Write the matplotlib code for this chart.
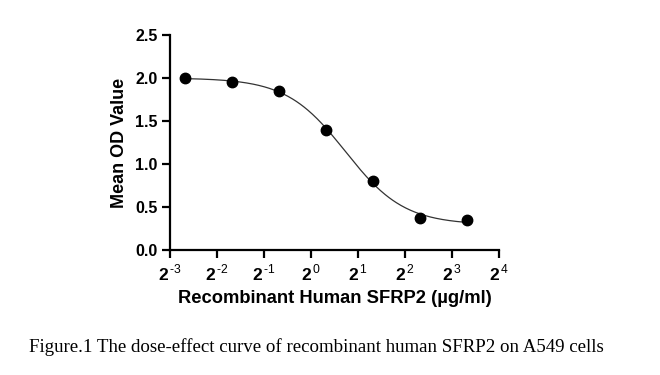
import numpy as np
import matplotlib.pyplot as plt
from matplotlib.ticker import FixedLocator, FuncFormatter

plt.rcParams["font.family"] = "Liberation Sans"
plt.rcParams["mathtext.fontset"] = "custom"
plt.rcParams["mathtext.rm"] = "Liberation Sans"
plt.rcParams["mathtext.bf"] = "Liberation Sans:bold"

# data
conc = [0.15625, 0.3125, 0.625, 1.25, 2.5, 5.0, 10.0]
od = [2.00, 1.95, 1.85, 1.40, 0.80, 0.37, 0.35]
x_exponents = [-3, -2, -1, 0, 1, 2, 3, 4]
y_ticks = [0.0, 0.5, 1.0, 1.5, 2.0, 2.5]

x = np.array(conc)
y = np.array(od)

# 4PL fit: grid search on ec50 / hill, linear solve for bottom / top
best = None
for log_ec in np.linspace(-1, 3, 401):
    for hill in np.linspace(0.5, 4, 141):
        s = 1.0 / (1.0 + (x / 2**log_ec) ** hill)
        A = np.column_stack([1 - s, s])
        coef, *_ = np.linalg.lstsq(A, y, rcond=None)
        err = np.sum((A @ coef - y) ** 2)
        if best is None or err < best[0]:
            best = (err, log_ec, hill, coef)
_, log_ec, hill, (bottom, top) = best

xf = np.logspace(np.log2(x.min()), np.log2(x.max()), 300, base=2)
sf = 1.0 / (1.0 + (xf / 2**log_ec) ** hill)
yf = bottom * (1 - sf) + top * sf

fig = plt.figure(figsize=(6.6, 3.75), dpi=100)
ax = fig.add_axes([170 / 660, 1 - 250 / 375, 329 / 660, 215 / 375])

ax.plot(xf, yf, color="#333333", lw=0.9, zorder=2)
ax.plot(x, y, "o", color="black", ms=7.5, zorder=3)

ax.set_xscale("log", base=2)
ax.set_xlim(2.0 ** x_exponents[0], 2.0 ** x_exponents[-1])
ax.set_ylim(0, 2.5)
ax.xaxis.set_major_locator(FixedLocator([2.0**k for k in x_exponents]))
ax.xaxis.set_minor_locator(FixedLocator([]))
ax.xaxis.set_major_formatter(
    FuncFormatter(lambda v, p: r"$\mathbf{2}^{\,\text{%d}}$" % round(np.log2(v))))
ax.set_yticks(y_ticks)
ax.yaxis.set_major_formatter(FuncFormatter(lambda v, p: f"{v:.1f}"))

for side in ["top", "right"]:
    ax.spines[side].set_visible(False)
for side in ["left", "bottom"]:
    ax.spines[side].set_linewidth(1.6)
ax.tick_params(width=1.6, length=6, pad=3)
ax.tick_params(axis="y", labelsize=11.5)
ax.tick_params(axis="x", labelsize=12.5)
for lab in ax.get_yticklabels():
    lab.set_fontweight("bold")

ax.set_xlabel("Recombinant Human SFRP2 (µg/ml)", fontsize=13.2, fontweight="bold", labelpad=5)
ax.set_ylabel("Mean OD Value", fontsize=13, fontweight="bold", labelpad=5)

fig.text(0.480, 0.075, "Figure.1 The dose-effect curve of recombinant human SFRP2 on A549 cells",
         family="Liberation Serif", fontsize=13.6, ha="center", va="center")

fig.savefig("out.png", dpi=100)
